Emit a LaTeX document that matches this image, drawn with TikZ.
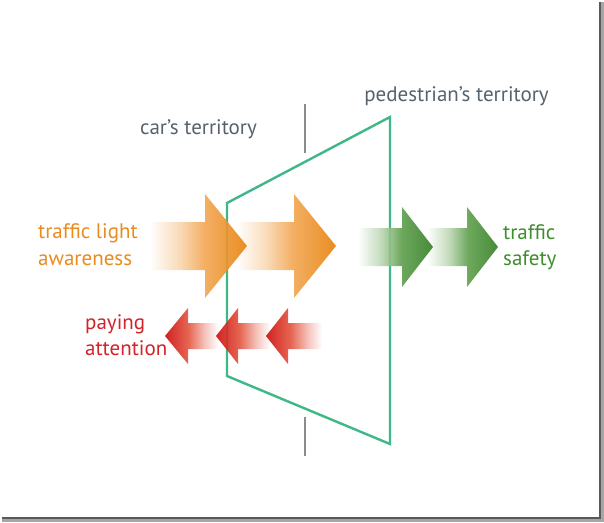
\documentclass[tikz,border=0pt]{standalone}
\usepackage{fontspec}
\setmainfont{PT Sans}
\definecolor{txtgray}{HTML}{58626D}
\definecolor{txtorange}{HTML}{E98B1E}
\definecolor{txtgreen}{HTML}{3E8E2E}
\definecolor{txtred}{HTML}{D2232A}
\definecolor{terrline}{HTML}{3DB886}
\definecolor{divgray}{HTML}{8C8C8C}
\definecolor{orA}{HTML}{F2A753}
\definecolor{orB}{HTML}{E8810B}
\definecolor{grA}{HTML}{5E9F4C}
\definecolor{grB}{HTML}{347F25}
\definecolor{rdA}{HTML}{E4553F}
\definecolor{rdB}{HTML}{CC0C0C}
\pgfdeclarehorizontalshading{orsh}{100bp}{color(0bp)=(white); color(25bp)=(white); color(40bp)=(orA!45!white); color(53bp)=(orA); color(75bp)=(orB); color(100bp)=(orB)}
\pgfdeclarehorizontalshading{grsh}{100bp}{color(0bp)=(white); color(25bp)=(white); color(40bp)=(grA!40!white); color(54bp)=(grA); color(75bp)=(grB); color(100bp)=(grB)}
\pgfdeclarehorizontalshading{rdsh}{100bp}{color(0bp)=(rdB); color(25bp)=(rdB); color(47bp)=(rdA); color(62bp)=(rdA!40!white); color(75bp)=(white); color(100bp)=(white)}
\newcommand\myarrow[7]{\path[#7] (#1,#4-#5) -- (#2,#4-#5) -- (#2,#4-#6) -- (#3,#4) -- (#2,#4+#6) -- (#2,#4+#5) -- (#1,#4+#5) -- cycle;}
\tikzset{
  lab/.style={font=\fontsize{21}{25}\selectfont, inner sep=0pt},
  terr/.style={draw=terrline, line width=2.4pt, line join=miter},
  divider/.style={draw=divgray, line width=2pt},
  orarrow/.style={shading=orsh, fill opacity=0.9},
  grarrow/.style={shading=grsh, fill opacity=0.9},
  rdarrow/.style={shading=rdsh, fill opacity=0.9}
}
\begin{document}
\begin{tikzpicture}[x=1pt,y=-1pt]
\useasboundingbox (0,0) rectangle (604,522);
\fill[white] (0,0) rectangle (604,522);
% frame shadow
\fill[black!65] (599,2) rectangle (601,519);
\fill[black!35] (601,2) rectangle (604,522);
\fill[black!65] (2,517) rectangle (601,519);
\fill[black!35] (2,519) rectangle (604,522);
% territory boundary
\coordinate (tl) at (227,203);
\coordinate (tr) at (390,117);
\coordinate (br) at (390,444);
\coordinate (bl) at (227,376);
\draw[terr] (tl) -- (tr) -- (br) -- (bl) -- cycle;
% dividers
\coordinate (d1a) at (305,104);
\coordinate (d1b) at (305,153);
\coordinate (d2a) at (305,417);
\coordinate (d2b) at (305,456);
\draw[divider] (d1a) -- (d1b);
\draw[divider] (d2a) -- (d2b);
% orange arrows (right one first)
\myarrow{237}{294}{336}{246}{24}{52}{orarrow}
\myarrow{150}{205}{247}{246}{24}{52}{orarrow}
% green arrows
\myarrow{427}{467}{498}{247}{19}{40}{grarrow}
\myarrow{358}{402}{433}{247}{19}{40}{grarrow}
% red arrows (left one first)
\myarrow{218}{188}{165}{336}{13}{28}{rdarrow}
\myarrow{270}{238}{216}{336}{13}{28}{rdarrow}
\myarrow{322}{288}{266}{336}{13}{28}{rdarrow}
% labels
\node[lab, txtgray, anchor=base] (cars) at (198.5,134) {car’s territory};
\node[lab, txtgray, anchor=base] (peds) at (456.5,101) {pedestrian’s territory};
\node[lab, txtorange, anchor=base west] (tla) at (38,238) {traffic light};
\node[lab, txtorange, anchor=base west] (tlb) at (38,265) {awareness};
\node[lab, txtgreen, anchor=base west] (tsa) at (503,239) {traffic};
\node[lab, txtgreen, anchor=base west] (tsb) at (503,265) {safety};
\node[lab, txtred, anchor=base west] (paa) at (85,329) {paying};
\node[lab, txtred, anchor=base west] (pab) at (85,355) {attention};
\end{tikzpicture}
\end{document}
